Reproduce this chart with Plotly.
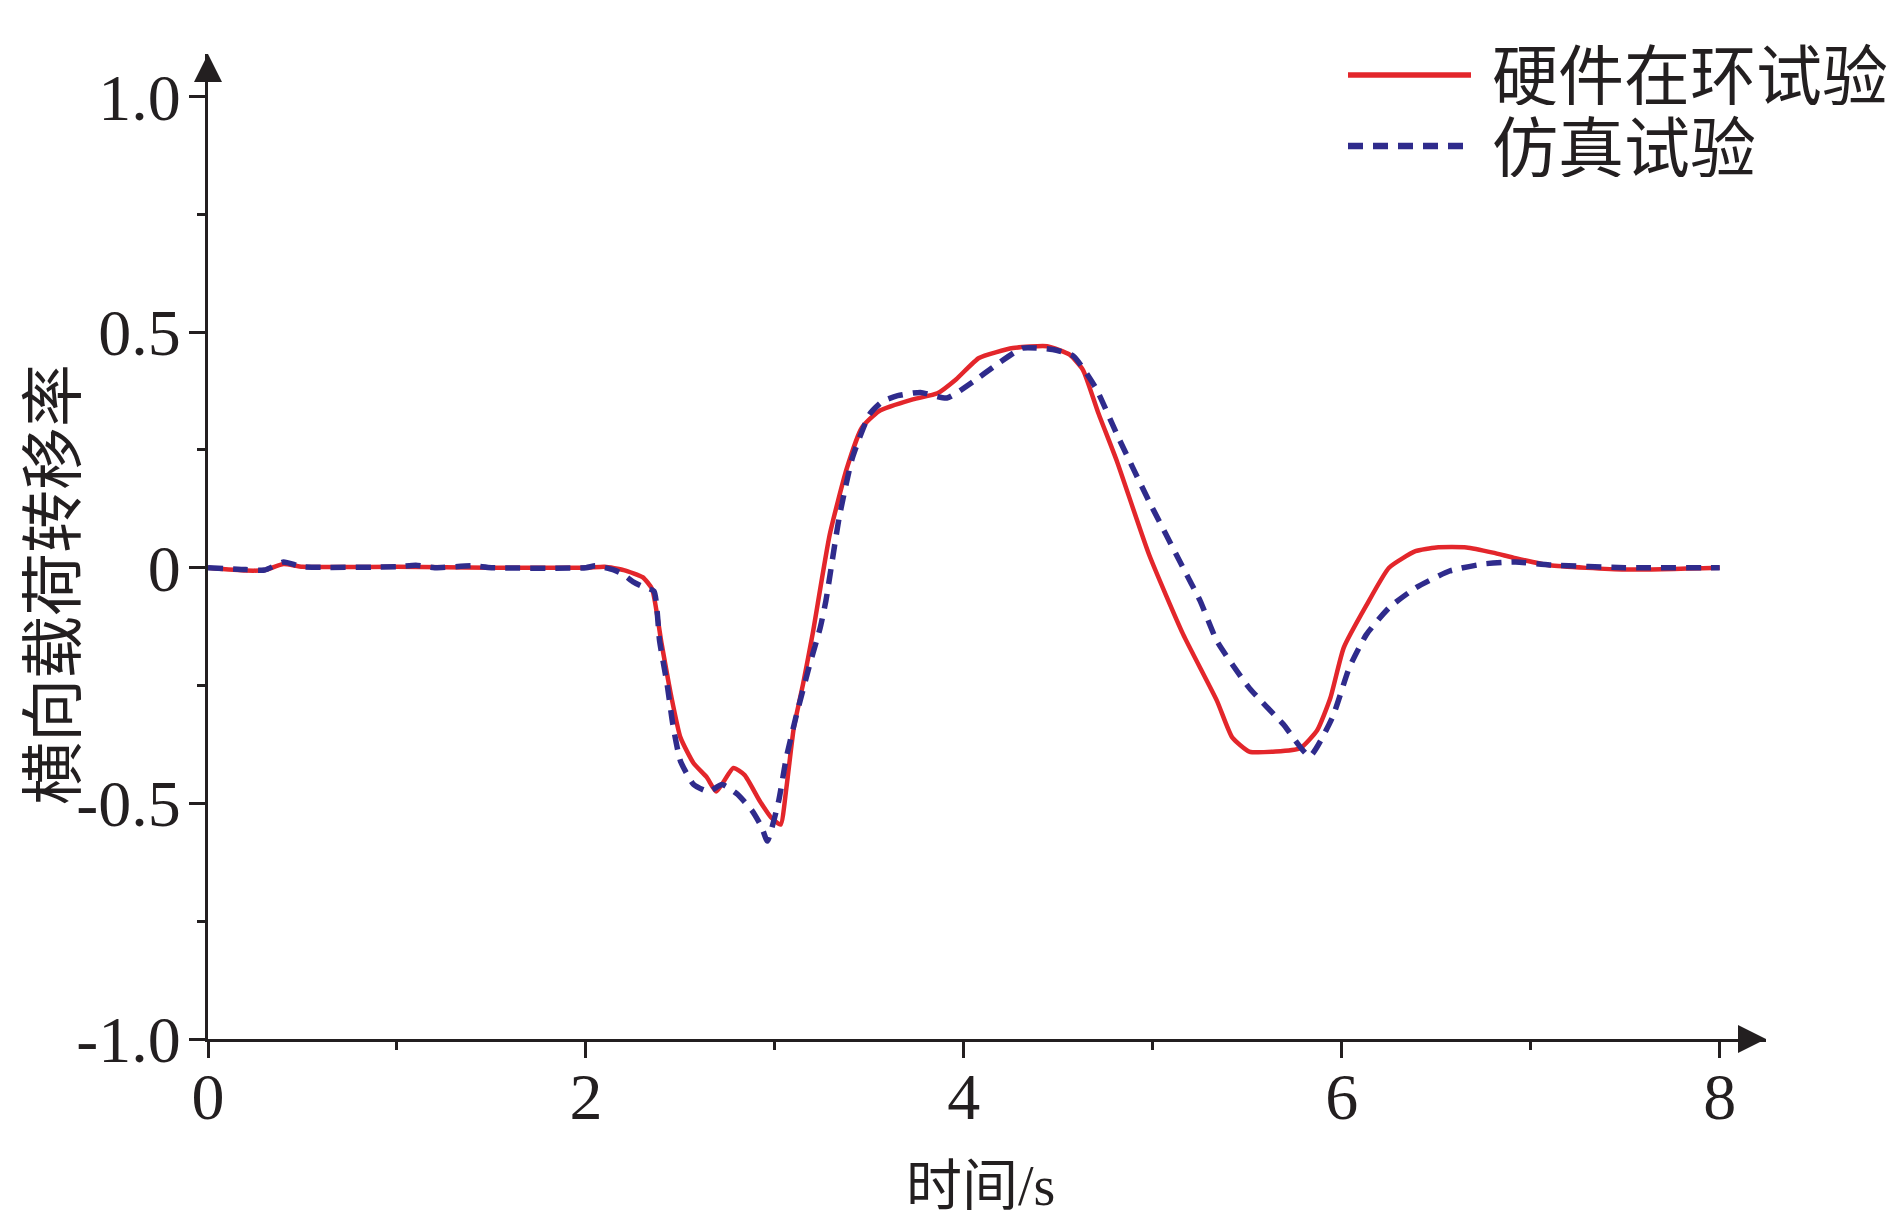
import plotly.graph_objects as go

# Hardware-in-the-loop test (red, solid)
t_hil = [0, 0.2, 0.3, 0.4, 0.5, 1.0, 1.5, 2.0, 2.1, 2.2, 2.3, 2.35, 2.4, 2.45, 2.5,
         2.57, 2.64, 2.69, 2.78, 2.84, 2.92, 2.98, 3.03, 3.06, 3.1, 3.15, 3.2, 3.29,
         3.38, 3.46, 3.55, 3.73, 3.86, 3.96, 4.08, 4.26, 4.44, 4.56, 4.63, 4.71, 4.81,
         4.98, 5.16, 5.34, 5.42, 5.51, 5.65, 5.78, 5.87, 5.94, 6.01, 6.13, 6.25, 6.39,
         6.5, 6.66, 6.8, 6.92, 7.1, 7.5, 8.0]
ltr_hil = [0, -0.006, -0.005, 0.008, 0.002, 0.002, 0.0, 0.0, 0.002, -0.005, -0.02,
           -0.045, -0.16, -0.27, -0.36, -0.415, -0.445, -0.475, -0.425, -0.44, -0.495,
           -0.53, -0.545, -0.47, -0.34, -0.245, -0.14, 0.07, 0.21, 0.297, 0.332, 0.357,
           0.37, 0.40, 0.445, 0.466, 0.47, 0.452, 0.42, 0.33, 0.226, 0.028, -0.141,
           -0.283, -0.36, -0.39, -0.39, -0.383, -0.345, -0.276, -0.17, -0.08, 0.0,
           0.035, 0.043, 0.043, 0.032, 0.02, 0.005, -0.004, 0.0]

# Simulation test (blue, dashed)
t_sim = [0, 0.2, 0.3, 0.4, 0.5, 1.0, 1.1, 1.2, 1.4, 1.5, 2.0, 2.05, 2.15, 2.2, 2.25,
         2.3, 2.36, 2.39, 2.43, 2.46, 2.5, 2.57, 2.65, 2.72, 2.8, 2.88, 2.93, 2.96,
         3.02, 3.06, 3.11, 3.18, 3.24, 3.27, 3.34, 3.41, 3.5, 3.57, 3.65, 3.77, 3.91,
         4.05, 4.17, 4.31, 4.47, 4.58, 4.7, 4.81, 4.98, 5.16, 5.25, 5.34, 5.51, 5.69,
         5.83, 5.95, 6.04, 6.13, 6.25, 6.39, 6.57, 6.75, 6.92, 7.1, 7.5, 8.0]
ltr_sim = [0, -0.004, -0.005, 0.012, 0.002, 0.002, 0.005, 0.0, 0.004, 0.0, 0.0, 0.004,
           -0.005, -0.015, -0.03, -0.04, -0.05, -0.156, -0.248, -0.333, -0.41, -0.46,
           -0.475, -0.46, -0.48, -0.516, -0.55, -0.58, -0.495, -0.404, -0.319, -0.212,
           -0.127, -0.07, 0.106, 0.233, 0.325, 0.353, 0.365, 0.372, 0.36, 0.395, 0.43,
           0.466, 0.463, 0.449, 0.38, 0.283, 0.141, 0.0, -0.07, -0.156, -0.255, -0.332,
           -0.40, -0.318, -0.212, -0.142, -0.085, -0.043, -0.007, 0.008, 0.012, 0.006,
           0.0, 0.0]

x_tickvals = [0, 2, 4, 6, 8]
x_ticktext = ["0", "2", "4", "6", "8"]
x_minor = [1, 3, 5, 7]
y_tickvals = [1.0, 0.5, 0, -0.5, -1.0]
y_ticktext = ["1.0", "0.5", "0", "-0.5", "-1.0"]
y_minor = [0.75, 0.25, -0.25, -0.75]

series_names = ["硬件在环试验", "仿真试验"]
x_title = "时间/s"
y_title = "横向载荷转移率"

RED = "#e3262b"
BLUE = "#2f2b8c"
INK = "#231f20"
SERIF = "Liberation Serif, Noto Sans CJK SC, serif"
CJK = "Noto Sans CJK SC, Liberation Serif, sans-serif"

fig = go.Figure()
fig.add_trace(go.Scatter(x=t_hil, y=ltr_hil, mode="lines", name=series_names[0],
                         line=dict(color=RED, width=4.5, shape="spline", smoothing=0.5),
                         showlegend=False))
fig.add_trace(go.Scatter(x=t_sim, y=ltr_sim, mode="lines", name=series_names[1],
                         line=dict(color=BLUE, width=5.5, dash="15px,10px",
                                   shape="spline", smoothing=0.5),
                         showlegend=False))

L, R, T, B = 208, 124, 54, 189
W, H = 1890, 1228
pw, ph = W - L - R, H - T - B

def px2paper_x(px):
    return (px - L) / pw

def px2paper_y(py):
    return (H - B - py) / ph

axis_common = dict(showline=True, linewidth=3, linecolor=INK, ticks="outside",
                   ticklen=16, tickwidth=3, tickcolor=INK, showgrid=False,
                   zeroline=False, tickfont=dict(family=SERIF, size=66, color=INK),
                   mirror=False)

fig.update_layout(
    width=W, height=H, autosize=False,
    margin=dict(l=L, r=R, t=T, b=B, pad=0),
    paper_bgcolor="white", plot_bgcolor="white",
    xaxis=dict(range=[0, 8.245], tickmode="array", tickvals=x_tickvals,
               ticktext=x_ticktext, ticklabelstandoff=-18,
               minor=dict(tickmode="array", tickvals=x_minor, ticks="outside",
                          ticklen=8, tickwidth=3, tickcolor=INK),
               **axis_common),
    yaxis=dict(range=[-1.0, 1.09], tickmode="array", tickvals=y_tickvals,
               ticktext=y_ticktext, ticklabelstandoff=-5,
               minor=dict(tickmode="array", tickvals=y_minor, ticks="outside",
                          ticklen=8, tickwidth=3, tickcolor=INK),
               **axis_common),
)

# axis arrowheads
fig.add_shape(type="path", xref="paper", yref="paper", xsizemode="pixel",
              ysizemode="pixel", xanchor=0, yanchor=1,
              path="M -14,-28 L 14,-28 L 0,0 Z", fillcolor=INK, line=dict(width=0))
fig.add_shape(type="path", xref="paper", yref="paper", xsizemode="pixel",
              ysizemode="pixel", xanchor=1, yanchor=0,
              path="M -28,-14 L -28,14 L 0,0 Z", fillcolor=INK, line=dict(width=0))

# axis titles
fig.add_annotation(text=y_title, xref="paper", yref="paper", x=px2paper_x(47),
                   y=px2paper_y(585), xanchor="center", yanchor="middle",
                   showarrow=False, textangle=-90,
                   font=dict(family=CJK, size=63, color=INK))
fig.add_annotation(text=x_title, xref="paper", yref="paper", x=px2paper_x(980),
                   y=px2paper_y(1186), xanchor="center", yanchor="middle",
                   showarrow=False, font=dict(family=SERIF, size=56, color=INK))

# legend (drawn manually to match long line samples)
legend_rows = [(series_names[0], RED, "solid", 4.5, 75, 71),
               (series_names[1], BLUE, "15px,10px", 5.5, 146, 143)]
for name, col, dash, wd, py_line, py_text in legend_rows:
    fig.add_shape(type="line", xref="paper", yref="paper",
                  x0=px2paper_x(1348), x1=px2paper_x(1471),
                  y0=px2paper_y(py_line), y1=px2paper_y(py_line),
                  line=dict(color=col, width=wd + 1, dash=dash))
    fig.add_annotation(text=name, xref="paper", yref="paper", x=px2paper_x(1490),
                       y=px2paper_y(py_text), xanchor="left", yanchor="middle",
                       height=68, valign="middle",
                       showarrow=False, font=dict(family=CJK, size=66, color=INK))

fig.write_html("out.html", config={"displayModeBar": False},
               post_script="document.body.style.margin='0';document.body.style.overflow='hidden';")
